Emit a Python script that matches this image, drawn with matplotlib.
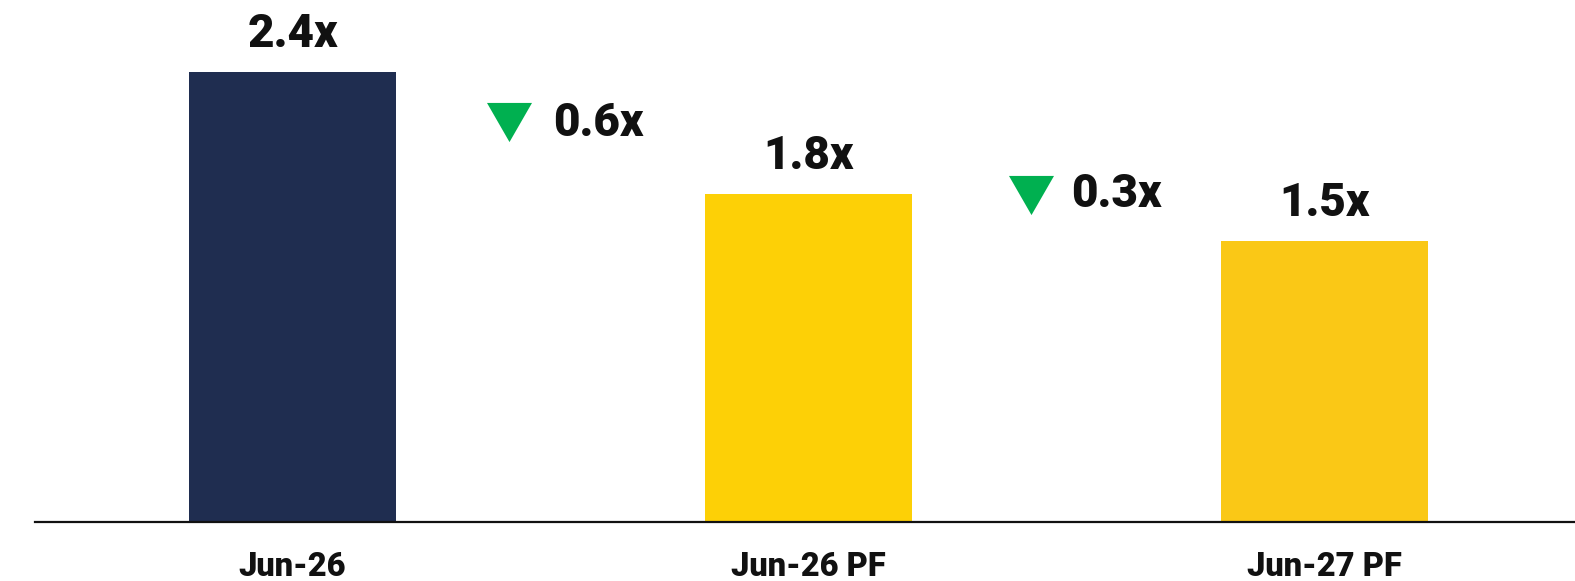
import matplotlib
matplotlib.use('Agg')
import matplotlib.pyplot as plt

# Data
categories = ["Jun-26", "Jun-26 PF", "Jun-27 PF"]
values = [2.40, 1.75, 1.50]
value_labels = ["2.4x", "1.8x", "1.5x"]
bar_colors = ['#1F2D50', '#FDD006', '#FAC816']

delta_labels = ["0.6x", "0.3x"]
# annotation anchors (marker x, marker y, text x, text baseline y) in data units
delta_pos = [(0.42, 2.135, 0.505, 2.058), (1.430, 1.746, 1.509, 1.679)]

plt.rcParams['font.family'] = ['Roboto', 'DejaVu Sans']

fig = plt.figure(figsize=(15.75, 5.81), dpi=100)
ax = fig.add_axes([35 / 1575, (581 - 521.7) / 581, 1 - 35 / 1575, 521.7 / 581])

x = list(range(len(categories)))
bars = ax.bar(x, values, width=0.401, color=bar_colors, zorder=2)

ax.set_xlim(-0.499, 2.485)
ax.set_ylim(0, 2.784)

# value labels above bars
for bar, lab in zip(bars, value_labels):
    ax.annotate(lab, (bar.get_x() + bar.get_width() / 2, bar.get_height()),
                xytext=(0, 18), textcoords='offset points',
                ha='center', va='baseline', fontsize=33, fontweight='heavy',
                color='#111111')

# change markers
tri = [(-1.15, 1), (1.15, 1), (0, -1)]
for (mx, my, tx, ty), lab in zip(delta_pos, delta_labels):
    ax.plot([mx], [my], marker=tri, markersize=32.4, color='#00B050',
            markeredgewidth=0, linestyle='none')
    ax.text(tx, ty, lab, ha='left', va='baseline', fontsize=33,
            fontweight='heavy', color='#111111')

# Styling
for s in ['top', 'right', 'left']:
    ax.spines[s].set_visible(False)
ax.spines['bottom'].set_color('#111111')
ax.spines['bottom'].set_linewidth(1.6)
ax.set_yticks([])
ax.set_xticks(x)
ax.set_xticklabels(categories, fontsize=23.5, fontweight='heavy', color='#111111')
ax.tick_params(axis='x', length=0, pad=21)

plt.savefig('out.png', dpi=100)
plt.close(fig)
